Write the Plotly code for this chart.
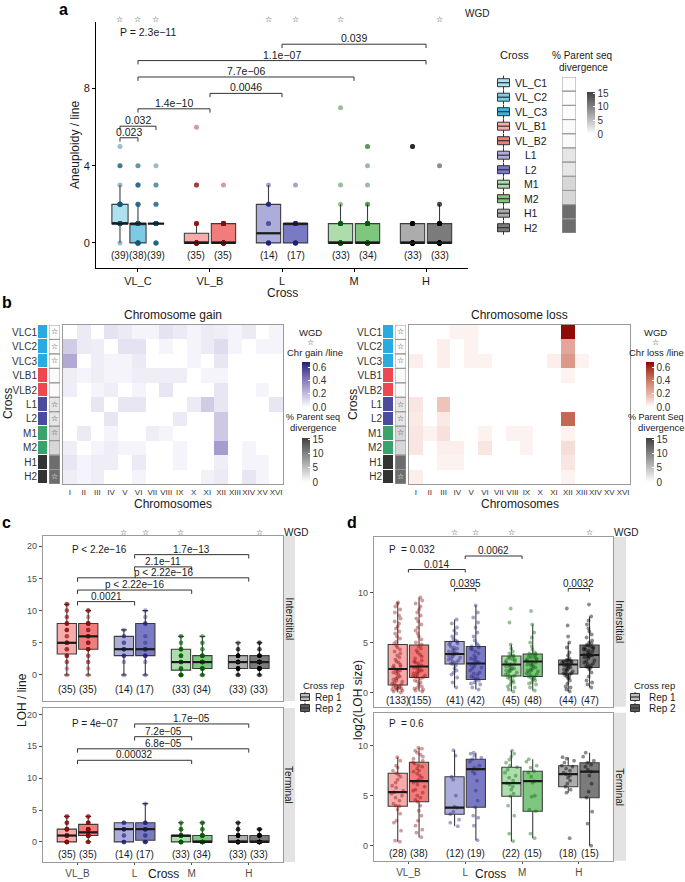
import plotly.graph_objects as go

W, H = 685, 882
FONT = "Liberation Sans, Arial, sans-serif"
SYM = "DejaVu Sans"


def PX(p):
    return p / W


def PY(p):
    return 1 - p / H

# ============================ DATA ============================
lines = ["VL_C1", "VL_C2", "VL_C3", "VL_B1", "VL_B2", "L1", "L2", "M1", "M2", "H1", "H2"]
line_group = ["VL_C", "VL_C", "VL_C", "VL_B", "VL_B", "L", "L", "M", "M", "H", "H"]
groups_a = ["VL_C", "VL_B", "L", "M", "H"]
row_labels_b = ["VLC1", "VLC2", "VLC3", "VLB1", "VLB2", "L1", "L2", "M1", "M2", "H1", "H2"]
wgd = [1, 1, 1, 0, 0, 1, 1, 1, 0, 0, 1]
divergence = [0.2, 0.2, 0.2, 0.4, 0.4, 2.0, 2.0, 3.2, 3.2, 11.8, 11.8]

# ---- panel a: aneuploidy / line ----
a_n = [39, 38, 39, 35, 35, 14, 17, 33, 34, 33, 33]
a_q1 = [1, 0, 1, 0, 0, 0, 0, 0, 0, 0, 0]
a_median = [1, 1, 1, 0, 0, 0.5, 1, 0, 0, 0, 0]
a_q3 = [2, 1, 1, 0.5, 1, 2, 1, 1, 1, 1, 1]
a_lower = [0, 0, 1, 0, 0, 0, 0, 0, 0, 0, 0]
a_upper = [3, 2, 1, 1, 1, 3, 1, 2, 2, 1, 2]
a_point_values = [[0, 1, 2, 3, 4, 5], [0, 1, 2, 3, 4], [0, 1, 2, 3, 4], [0, 1, 3, 6], [0, 1, 3],
                  [0, 1, 2, 3], [0, 1, 3], [0, 1, 2, 3, 7], [0, 1, 2, 3, 4, 5], [0, 1, 5], [0, 1, 2, 4]]
a_point_counts = [[1, 17, 10, 1, 3, 1], [10, 18, 4, 4, 2], [5, 27, 3, 2, 1], [26, 5, 3, 1], [22, 12, 1],
                  [6, 2, 4, 1], [7, 9, 1], [20, 8, 1, 1, 1], [18, 10, 2, 1, 1, 2], [24, 8, 3], [22, 8, 2, 1]]
a_comparisons = [("VL_C1", "VL_C2", 5.45, "0.023"), ("VL_C1", "VL_C3", 6.05, "0.032"),
                 ("VL_C", "VL_B", 6.95, "1.4e\u221210"), ("VL_B", "L", 7.75, "0.0046"),
                 ("VL_C", "M", 8.6, "7.7e\u221206"), ("VL_C", "H", 9.45, "1.1e\u221207"),
                 ("L", "H", 10.3, "0.039")]
a_global_p = "P = 2.3e\u221211"

# ---- panel b: chromosome gain / loss per line ----
chromosomes = ["I", "II", "III", "IV", "V", "VI", "VII", "VIII", "IX", "X", "XI", "XII", "XIII", "XIV", "XV", "XVI"]
gain = [
    [0, .06, 0, .08, .06, .03, .03, .08, .06, .03, .06, .05, .03, .06, 0, .03],
    [.15, .06, .05, 0, .08, .08, 0, .03, 0, .03, .06, .10, .03, 0, .03, .03],
    [.26, 0, .05, .03, .03, .06, 0, 0, 0, .03, 0, .07, 0, 0, 0, 0],
    [.05, .03, .05, .03, .03, .05, .05, .05, .05, 0, .03, .03, 0, 0, 0, 0],
    [.05, 0, .03, .05, 0, .03, 0, .07, 0, 0, 0, .07, 0, 0, .03, 0],
    [0, 0, .07, 0, .07, .07, 0, 0, 0, .06, .15, .07, 0, 0, 0, .07],
    [0, 0, 0, .07, 0, 0, 0, 0, .06, 0, 0, .16, 0, 0, 0, 0],
    [0, .06, 0, .03, 0, 0, .05, .03, 0, 0, 0, .16, 0, 0, 0, 0],
    [.05, 0, .03, .05, .03, .03, 0, 0, .03, 0, 0, .30, 0, .03, 0, 0],
    [.07, .03, .05, .05, 0, .06, 0, 0, .03, 0, 0, .05, 0, .03, .03, 0],
    [.05, .03, .05, 0, 0, .03, 0, 0, 0, 0, .04, .06, 0, .07, .03, 0],
]
loss = [
    [0, 0, 0, .03, .03, 0, 0, 0, 0, 0, 0, .66, 0, 0, 0, 0],
    [0, 0, .04, 0, .03, 0, 0, 0, 0, 0, 0, .25, 0, 0, 0, 0],
    [.04, 0, .04, 0, .03, .03, 0, 0, 0, 0, .04, .30, .03, 0, 0, 0],
    [0, 0, 0, 0, 0, 0, 0, 0, 0, 0, 0, .03, 0, 0, 0, 0],
    [0, 0, 0, 0, 0, 0, 0, 0, 0, 0, 0, 0, 0, 0, 0, 0],
    [.06, 0, .15, 0, 0, 0, 0, 0, 0, 0, 0, 0, 0, 0, 0, 0],
    [.05, 0, .05, 0, 0, 0, 0, 0, 0, 0, 0, .45, 0, 0, 0, 0],
    [.06, .03, .07, 0, 0, .03, 0, .03, .03, 0, 0, .03, 0, 0, 0, 0],
    [.06, 0, .04, .04, 0, .06, 0, 0, .03, 0, 0, .08, 0, 0, 0, 0],
    [0, 0, .03, .03, 0, 0, 0, 0, 0, 0, 0, .06, 0, 0, 0, 0],
    [.04, 0, 0, 0, 0, 0, 0, 0, 0, 0, 0, .03, 0, 0, 0, 0],
]

# ---- panels c / d ----
cd_groups = ["VL_B", "L", "M", "H"]
cd_lines = ["VL_B1", "VL_B2", "L1", "L2", "M1", "M2", "H1", "H2"]
cd_line_group = ["VL_B", "VL_B", "L", "L", "M", "M", "H", "H"]
cd_wgd = [0, 0, 1, 1, 1, 0, 0, 1]

# c: LOH / line, interstitial
c_int_n = [35, 35, 14, 17, 33, 34, 33, 33]
c_int_q1 = [3.25, 4, 3, 3, 0.75, 1, 1, 1]
c_int_median = [5, 6, 4, 4, 2, 2, 2, 2]
c_int_q3 = [8, 8, 6, 8, 4, 3, 3, 3]
c_int_lower = [0, 0, 0, 0, 0, 0, 0, 0]
c_int_upper = [11, 10, 7, 10, 6, 6, 5, 5]
c_int_values = [[0, 1, 2, 3, 4, 5, 6, 7, 8, 9, 10, 11], [0, 1, 2, 3, 4, 5, 6, 7, 8, 9, 10],
                [0, 2, 3, 4, 5, 6, 7], [0, 2, 3, 4, 5, 6, 8, 9, 10], [0, 1, 2, 3, 4, 5, 6],
                [0, 1, 2, 3, 4, 5, 6], [0, 1, 2, 3, 4, 5], [0, 1, 2, 3, 4, 5]]
c_int_counts = [[1, 1, 2, 4, 3, 6, 2, 4, 5, 2, 2, 3], [1, 1, 2, 2, 5, 4, 6, 3, 7, 1, 3],
                [1, 1, 3, 4, 2, 2, 1], [1, 1, 4, 4, 1, 1, 3, 1, 1], [8, 4, 7, 5, 5, 2, 2],
                [3, 7, 12, 7, 2, 2, 1], [2, 8, 12, 8, 2, 1], [2, 9, 11, 7, 2, 2]]
c_int_comparisons = [("VL_B", "L", 11.4, "0.0021"), ("VL_B", "M", 13.2, "p &lt; 2.22e\u221216"),
                     ("VL_B", "H", 15.1, "p &lt; 2.22e\u221216"), ("L", "M", 16.8, "2.1e\u221211"),
                     ("L", "H", 18.7, "1.7e\u221213")]
c_int_p = "P &lt; 2.2e\u221216"

# c: LOH / line, terminal
c_ter_n = [35, 35, 14, 17, 33, 34, 33, 33]
c_ter_q1 = [0, 1, 0, 0.25, 0, 0, 0, 0]
c_ter_median = [1, 1.5, 2, 2, 1, 0, 0, 0]
c_ter_q3 = [2, 2.75, 3, 3, 1, 1, 1, 1]
c_ter_lower = [0, 0, 0, 0, 0, 0, 0, 0]
c_ter_upper = [4, 4, 3, 6, 3, 3, 3, 2]
c_ter_values = [[0, 1, 2, 3, 4], [0, 1, 2, 3, 4], [0, 1, 2, 3], [0, 1, 2, 3, 6],
                [0, 1, 2, 3], [0, 1, 2, 3], [0, 1, 2, 3], [0, 1, 2]]
c_ter_counts = [[10, 9, 9, 4, 3], [4, 13, 9, 6, 3], [4, 2, 5, 3], [4, 2, 6, 4, 1],
                [15, 12, 4, 2], [18, 10, 3, 3], [18, 10, 3, 2], [19, 11, 3]]
c_ter_comparisons = [("L", "H", 18.5, "1.7e\u221205"), ("L", "M", 16.5, "7.2e\u221205"),
                     ("VL_B", "H", 14.6, "6.8e\u221205"), ("VL_B", "M", 12.8, "0.00032")]
c_ter_p = "P = 4e\u221207"

# d: log2(LOH size), interstitial
d_int_n = [133, 155, 41, 42, 45, 48, 44, 47]
d_int_q1 = [0.75, 1.5, 2.85, 1.3, 1.65, 1.6, 1.85, 2.5]
d_int_median = [2.35, 2.6, 3.85, 2.9, 2.8, 3.1, 2.8, 3.75]
d_int_q3 = [4.8, 4.75, 5.1, 4.6, 3.65, 3.85, 3.25, 4.75]
d_int_lower = [0.0, 0.1, 0.5, 0.3, 0.1, 0.2, 0.1, 0.5]
d_int_upper = [9.0, 9.5, 7.3, 8.7, 4.8, 6.8, 5.0, 7.6]
d_int_values = [
    [0.0, 0.1, 0.2, 0.3, 0.4, 0.5, 0.5, 0.6, 0.7, 0.8, 0.9, 1.0, 1.1, 1.2, 1.4, 1.5, 1.6, 1.8, 1.9, 2.0,
     2.1, 2.2, 2.3, 2.4, 2.5, 2.6, 2.8, 3.0, 3.1, 3.3, 3.5, 3.7, 3.9, 4.1, 4.3, 4.5, 4.7, 4.9, 5.1, 5.4,
     5.6, 5.9, 6.1, 6.4, 6.6, 6.9, 7.1, 7.4, 7.7, 8.0, 8.3, 8.6, 8.9, 9.0, 0.3, 0.6, 1.3, 2.2, 2.7, 0.4],
    [0.1, 0.2, 0.4, 0.6, 0.8, 1.0, 1.2, 1.4, 1.5, 1.6, 1.7, 1.8, 1.9, 2.0, 2.2, 2.3, 2.4, 2.5, 2.6, 2.7,
     2.9, 3.0, 3.2, 3.4, 3.6, 3.8, 4.0, 4.2, 4.4, 4.6, 4.8, 5.0, 5.3, 5.6, 5.9, 6.2, 6.5, 6.8, 7.1, 7.4,
     7.7, 8.0, 8.3, 8.6, 8.9, 9.2, 9.5, 0.3, 1.1, 1.5, 2.1, 2.6, 3.1, 0.5, 1.6],
    [0.5, 1.0, 1.5, 2.0, 2.4, 2.7, 2.9, 3.0, 3.1, 3.2, 3.4, 3.5, 3.6, 3.7, 3.8, 3.85, 3.9, 4.0, 4.1, 4.2,
     4.3, 4.5, 4.6, 4.8, 4.9, 5.0, 5.1, 5.3, 5.6, 5.9, 6.2, 6.5, 6.9, 7.3, 2.85, 3.3, 4.4, 5.2, 1.8, 2.2, 3.9],
    [0.3, 0.5, 0.8, 1.0, 1.2, 1.3, 1.4, 1.6, 1.8, 2.0, 2.2, 2.4, 2.6, 2.8, 2.9, 3.0, 3.1, 3.3, 3.5, 3.7,
     3.9, 4.1, 4.3, 4.5, 4.6, 4.7, 4.9, 5.2, 5.6, 6.0, 6.5, 7.0, 7.5, 8.0, 8.7, 1.5, 2.5, 3.4, 4.4, 0.9, 2.9, 1.9],
    [0.1, 0.3, 0.5, 0.8, 1.0, 1.2, 1.4, 1.5, 1.6, 1.7, 1.8, 1.9, 2.0, 2.1, 2.2, 2.3, 2.4, 2.5, 2.6, 2.7,
     2.8, 2.85, 2.9, 3.0, 3.1, 3.2, 3.3, 3.4, 3.5, 3.6, 3.65, 3.7, 3.9, 4.1, 4.4, 4.8, 7.0, 8.4, 1.65, 2.2,
     2.75, 3.3, 0.6, 1.1, 2.4],
    [0.2, 0.5, 0.8, 1.0, 1.2, 1.4, 1.5, 1.6, 1.7, 1.8, 1.9, 2.0, 2.1, 2.2, 2.4, 2.5, 2.6, 2.7, 2.8, 2.9,
     3.0, 3.1, 3.2, 3.3, 3.4, 3.5, 3.6, 3.7, 3.8, 3.85, 3.9, 4.0, 4.3, 4.6, 5.0, 5.5, 6.0, 6.8, 8.15, 1.6,
     2.3, 3.1, 3.5, 0.9, 2.2, 2.8, 3.3, 1.3],
    [0.1, 0.3, 0.6, 0.9, 1.2, 1.4, 1.6, 1.7, 1.8, 1.85, 1.9, 2.0, 2.1, 2.2, 2.3, 2.4, 2.5, 2.6, 2.7, 2.8,
     2.85, 2.9, 3.0, 3.05, 3.1, 3.15, 3.2, 3.25, 3.4, 3.7, 4.0, 4.5, 5.0, 5.6, 6.7, 8.4, 1.9, 2.3, 2.8, 3.2,
     0.5, 1.5, 2.6, 3.0],
    [0.5, 0.8, 1.2, 1.6, 2.0, 2.3, 2.5, 2.6, 2.7, 2.8, 3.0, 3.2, 3.4, 3.5, 3.6, 3.7, 3.75, 3.8, 3.9, 4.0,
     4.1, 4.2, 4.3, 4.4, 4.5, 4.6, 4.7, 4.75, 4.9, 5.2, 5.5, 5.8, 6.1, 6.4, 6.8, 7.2, 7.6, 8.8, 2.5, 3.1,
     3.75, 4.3, 1.0, 2.9, 3.6, 4.5, 5.0],
]
d_int_comparisons = [("VL_B", "L", 12.3, "0.014"), ("L", "M", 13.65, "0.0062"),
                     ("L1", "L2", 10.4, "0.0395"), ("H1", "H2", 10.4, "0.0032")]
d_int_p = "P  = 0.032"

# d: log2(LOH size), terminal
d_ter_n = [28, 38, 12, 19, 22, 15, 18, 15]
d_ter_q1 = [3.95, 4.4, 3.15, 3.85, 4.95, 3.45, 5.9, 4.8]
d_ter_median = [5.35, 6.45, 3.8, 7.65, 6.25, 6.45, 7.15, 7.4]
d_ter_q3 = [7.25, 8.35, 6.9, 8.65, 7.85, 7.45, 8.0, 8.3]
d_ter_lower = [0.4, 0.85, 1.95, 0.55, 0.45, 0.75, 5.3, 0.0]
d_ter_upper = [8.85, 9.8, 9.55, 9.3, 9.5, 8.65, 8.85, 9.3]
d_ter_values = [
    [0.4, 0.5, 1.5, 2.3, 2.5, 3.2, 3.6, 3.95, 4.0, 4.2, 4.5, 4.8, 5.0, 5.2, 5.35, 5.5, 5.8, 6.0, 6.3, 6.6,
     6.9, 7.1, 7.25, 7.5, 7.8, 8.0, 8.5, 8.85],
    [0.85, 1.3, 1.6, 2.0, 2.5, 3.0, 3.5, 4.0, 4.4, 4.6, 5.0, 5.3, 5.6, 5.9, 6.1, 6.3, 6.45, 6.6, 6.8, 7.0,
     7.2, 7.5, 7.7, 7.9, 8.0, 8.2, 8.35, 8.5, 8.7, 8.9, 9.1, 9.3, 9.5, 9.7, 9.8, 5.5, 7.4, 4.8],
    [1.95, 2.3, 2.6, 3.15, 3.4, 3.8, 3.9, 5.0, 6.6, 6.9, 9.0, 9.55],
    [0.55, 2.0, 2.8, 3.0, 3.85, 4.5, 5.5, 6.5, 7.2, 7.65, 7.8, 8.0, 8.4, 8.65, 8.8, 9.0, 9.2, 9.3, 7.4],
    [0.45, 1.2, 3.0, 4.0, 4.95, 5.2, 5.6, 5.9, 6.1, 6.25, 6.5, 6.8, 7.0, 7.3, 7.6, 7.85, 8.0, 8.3, 8.6,
     8.9, 9.2, 9.5],
    [0.75, 1.2, 3.45, 3.6, 4.9, 5.0, 6.3, 6.45, 6.9, 7.3, 7.45, 7.8, 8.0, 8.4, 8.65],
    [0.75, 5.3, 5.6, 5.9, 6.2, 6.5, 6.8, 7.0, 7.15, 7.3, 7.5, 7.7, 7.9, 8.0, 8.3, 8.5, 8.7, 8.85],
    [0.0, 2.2, 3.4, 4.8, 5.4, 6.2, 7.0, 7.4, 7.6, 7.9, 8.1, 8.3, 8.5, 8.9, 9.3],
]
d_ter_p = "P  = 0.6"

# ============================ STYLE ============================
FILL = {"VL_C1": "#aee0f0", "VL_C2": "#7dc9e6", "VL_C3": "#3fb3df", "VL_B1": "#f8abab", "VL_B2": "#f07c7c",
        "L1": "#adaddc", "L2": "#7a7ac4", "M1": "#addcad", "M2": "#7fc67f", "H1": "#acacac", "H2": "#7b7b7b"}
PT = {"VL_C": "rgba(15,90,120,0.4)", "VL_B": "rgba(140,10,10,0.4)", "L": "rgba(30,30,115,0.4)",
      "M": "rgba(0,95,0,0.4)", "H": "rgba(0,0,0,0.45)"}
CROSS_COL = {"VL_C": "#29aae1", "VL_B": "#ef4750", "L": "#4b4b9b", "M": "#3aa26b", "H": "#333333"}
BOX_LINE = "#3d3d3d"
GAIN_CS = [[0, "#ffffff"], [0.1, "#e9e7f3"], [0.25, "#cbc5e2"], [0.45, "#a59acd"],
           [0.65, "#7d6fb5"], [0.85, "#4d4393"], [1, "#231f6e"]]
LOSS_CS = [[0, "#ffffff"], [0.1, "#f8e2dd"], [0.25, "#ebbdb2"], [0.45, "#da978a"],
           [0.65, "#c56b57"], [0.85, "#a63a2a"], [1, "#8b0000"]]
DIV_CS = [[0, "#ffffff"], [1, "#3f3f3f"]]

fig = go.Figure()
shapes = []
annotations = []
layout = {}


def axn(i):
    return ("x" if i == 1 else f"x{i}"), ("y" if i == 1 else f"y{i}")


def set_axes(i, xpx, ypx, xr, yr, xkw=None, ykw=None):
    xn, yn = axn(i)
    xa = dict(domain=[PX(xpx[0]), PX(xpx[1])], range=xr, anchor=yn, showgrid=False, zeroline=False,
              fixedrange=True)
    ya = dict(domain=[PY(ypx[1]), PY(ypx[0])], range=yr, anchor=xn, showgrid=False, zeroline=False,
              fixedrange=True)
    xa.update(xkw or {})
    ya.update(ykw or {})
    layout["xaxis" if i == 1 else f"xaxis{i}"] = xa
    layout["yaxis" if i == 1 else f"yaxis{i}"] = ya


def txt(x, y, s, size=10, color="#1a1a1a", xanchor="center", yanchor="middle", angle=0,
        family=FONT, xref="paper", yref="paper", yshift=0):
    annotations.append(dict(x=PX(x) if xref == "paper" else x, y=PY(y) if yref == "paper" else y,
                            xref=xref, yref=yref, text=s, showarrow=False, xanchor=xanchor,
                            yanchor=yanchor, textangle=angle, yshift=yshift,
                            font=dict(size=size, color=color, family=family)))


def dodge(lns, lgrp, grps):
    pos, wid = {}, {}
    for gi, g in enumerate(grps):
        mem = [l for l, lg in zip(lns, lgrp) if lg == g]
        k = len(mem)
        for j, m in enumerate(mem):
            pos[m] = gi + 1 + 0.75 / k * (j - (k - 1) / 2)
            wid[m] = 0.9 * 0.75 / k
        pos[g] = gi + 1
    return pos, wid


def boxes(i, lns, pos, wid, q1, med, q3, lo, hi, whisk):
    xn, yn = axn(i)
    for k, ln in enumerate(lns):
        fig.add_trace(go.Box(x=[pos[ln]], q1=[q1[k]], median=[med[k]], q3=[q3[k]],
                             lowerfence=[lo[k]], upperfence=[hi[k]], width=wid[ln], orientation="v",
                             fillcolor=FILL[ln], line=dict(color=BOX_LINE, width=1.1),
                             whiskerwidth=whisk, boxpoints=False, xaxis=xn, yaxis=yn,
                             showlegend=False, hoverinfo="skip"))
        shapes.append(dict(type="line", xref=xn, yref=yn, x0=pos[ln] - wid[ln] / 2,
                           x1=pos[ln] + wid[ln] / 2, y0=med[k], y1=med[k],
                           line=dict(color="#1a1a1a", width=2.2)))


def discrete_points(i, lns, lgrp, pos, values, counts, size):
    xn, yn = axn(i)
    for k, ln in enumerate(lns):
        xs, ys = [], []
        for v, c in zip(values[k], counts[k]):
            xs += [pos[ln]] * c
            ys += [v] * c
        fig.add_trace(go.Scatter(x=xs, y=ys, mode="markers", xaxis=xn, yaxis=yn, showlegend=False,
                                 hoverinfo="skip",
                                 marker=dict(size=size, color=PT[lgrp[k]], line=dict(width=0))))


def jitter_points(i, lns, lgrp, pos, wid, values, size):
    xn, yn = axn(i)
    for k, ln in enumerate(lns):
        fig.add_trace(go.Box(y=values[k], x=[pos[ln]] * len(values[k]), orientation="v",
                             boxpoints="all", jitter=0.7, pointpos=0, width=wid[ln],
                             fillcolor="rgba(0,0,0,0)", line=dict(width=0, color="rgba(0,0,0,0)"),
                             marker=dict(size=size, color=PT[lgrp[k]], line=dict(width=0)),
                             xaxis=xn, yaxis=yn, showlegend=False, hoverinfo="skip"))


def brackets(i, pos, comps, tip, size=10):
    xn, yn = axn(i)
    for a, b, yv, lab in comps:
        x1, x2 = pos[a], pos[b]
        shapes.append(dict(type="path", xref=xn, yref=yn,
                           path=f"M {x1},{yv - tip} L {x1},{yv} L {x2},{yv} L {x2},{yv - tip}",
                           line=dict(color="#333333", width=1)))
        annotations.append(dict(xref=xn, yref=yn, x=(x1 + x2) / 2, y=yv, text=lab, showarrow=False,
                                yanchor="bottom", yshift=-2,
                                font=dict(size=size, color="#1a1a1a", family=FONT)))


def count_labels(i, lns, pos, ns, yv, size=10):
    xn, yn = axn(i)
    for ln, n in zip(lns, ns):
        annotations.append(dict(xref=xn, yref=yn, x=pos[ln], y=yv, text=f"({n})", showarrow=False,
                                font=dict(size=size, color="#1a1a1a", family=FONT)))


def wgd_stars(i, lns, pos, flags, ypx, size=8):
    xn, _ = axn(i)
    for ln, f in zip(lns, flags):
        if f:
            annotations.append(dict(xref=xn, yref="paper", x=pos[ln], y=PY(ypx), text="\u2606",
                                    showarrow=False,
                                    font=dict(size=size, color="#333333", family=SYM)))


def legend_glyph(cx, cy, fill, w=12, h=8, wh=7):
    shapes.append(dict(type="line", xref="paper", yref="paper", x0=PX(cx), x1=PX(cx),
                       y0=PY(cy - wh), y1=PY(cy + wh), line=dict(color="#333333", width=1)))
    shapes.append(dict(type="rect", xref="paper", yref="paper", x0=PX(cx - w / 2), x1=PX(cx + w / 2),
                       y0=PY(cy + h / 2), y1=PY(cy - h / 2), fillcolor=fill,
                       line=dict(color="#333333", width=1)))
    shapes.append(dict(type="line", xref="paper", yref="paper", x0=PX(cx - w / 2), x1=PX(cx + w / 2),
                       y0=PY(cy), y1=PY(cy), line=dict(color="#333333", width=1.2)))


TICKFONT = dict(size=11, color="#1a1a1a", family=FONT)
SMALLTICK = dict(size=9, color="#4d4d4d", family=FONT)

# ============================ PANEL a ============================
pos_a, wid_a = dodge(lines, line_group, groups_a)
set_axes(1, (96, 468), (22, 268), [0.417, 5.583], [-1.3, 11.45],
         dict(showline=True, linecolor="black", linewidth=1, ticks="outside", ticklen=3,
              tickcolor="black", tickvals=list(range(1, 6)), ticktext=groups_a, tickfont=TICKFONT),
         dict(showline=True, linecolor="black", linewidth=1, ticks="outside", ticklen=3,
              tickcolor="black", tickvals=[0, 4, 8], tickfont=TICKFONT))
boxes(1, lines, pos_a, wid_a, a_q1, a_median, a_q3, a_lower, a_upper, 0)
discrete_points(1, lines, line_group, pos_a, a_point_values, a_point_counts, 5)
brackets(1, pos_a, a_comparisons, 0.2, 10.5)
count_labels(1, lines, pos_a, a_n, -0.67, 10)
wgd_stars(1, lines, pos_a, wgd, 13, 8)
txt(463, 14, "WGD", 10, xanchor="left")
txt(118, 32, a_global_p, 10.5, xanchor="left")
txt(75, 145, "Aneuploidy / line", 12, angle=-90)
txt(282, 293, "Cross", 12)
txt(57, 10, "<b>a</b>", 16, xanchor="left", color="black")

# legend of panel a
txt(498, 55, "Cross", 11, xanchor="left")
for k, ln in enumerate(lines):
    cy = 82.7 + k * 14.5
    legend_glyph(503.5, cy, FILL[ln])
    txt(531, cy, ln, 10.5)
txt(582, 55, "% Parent seq", 10)
txt(583, 67, "divergence", 10)
set_axes(2, (562, 576), (77, 233), [-0.5, 0.5], [10.5, -0.5],
         dict(showticklabels=False, ticks=""), dict(showticklabels=False, ticks=""))
fig.add_trace(go.Heatmap(z=[[d] for d in divergence], x=[0], y=list(range(11)), colorscale=DIV_CS,
                         zmin=0, zmax=15.5, xaxis="x2", yaxis="y2", hoverinfo="skip",
                         colorbar=dict(x=PX(587), xanchor="left", y=PY(113), yanchor="middle",
                                       len=42, lenmode="pixels", thickness=8, xpad=0, ypad=0,
                                       outlinewidth=0, tickvals=[0, 5, 10, 15], ticks="inside",
                                       ticklen=2, tickcolor="white",
                                       tickfont=dict(size=10, color="#333333", family=FONT))))
for r in range(11):
    shapes.append(dict(type="rect", xref="x2", yref="y2", x0=-0.5, x1=0.5, y0=r - 0.5, y1=r + 0.5,
                       line=dict(color="#9a9a9a", width=1)))

# ============================ PANEL b ============================
grp_index = [groups_a.index(g) for g in line_group]
cross_cs = []
for gi, g in enumerate(groups_a):
    cross_cs += [[gi / 5, CROSS_COL[g]], [(gi + 1) / 5, CROSS_COL[g]]]

b_top, b_bot = 325, 484


def heat_block(main_i, cross_i, wgd_i, main_x, cross_x, wgd_x, z, cs, zmax, cb_x, title, cb_title,
               div_title, text_pos):
    set_axes(main_i, main_x, (b_top, b_bot), [-0.5, 15.5], [10.5, -0.5],
             dict(showline=True, mirror=True, linecolor="#9a9a9a", linewidth=1, ticks="",
                  tickvals=list(range(16)), ticktext=chromosomes, tickangle=0,
                  tickfont=dict(size=8, color="#333333", family=FONT)),
             dict(showline=True, mirror=True, linecolor="#9a9a9a", linewidth=1, ticks="",
                  showticklabels=False))
    xn, yn = axn(main_i)
    fig.add_trace(go.Heatmap(z=z, x=list(range(16)), y=list(range(11)), colorscale=cs, zmin=0, zmax=zmax,
                             xaxis=xn, yaxis=yn, hoverinfo="skip",
                             colorbar=dict(x=PX(cb_x), xanchor="left", y=PY(384.5), yanchor="middle",
                                           len=45, lenmode="pixels", thickness=8, xpad=0, ypad=0,
                                           outlinewidth=0, tickvals=[0, 0.2, 0.4, 0.6],
                                           ticktext=["0.0", "0.2", "0.4", "0.6"], ticks="inside",
                                           ticklen=2, tickcolor="white",
                                           tickfont=dict(size=10, color="#333333", family=FONT))))
    set_axes(cross_i, cross_x, (b_top, b_bot), [-0.5, 0.5], [10.5, -0.5],
             dict(showticklabels=False, ticks=""),
             dict(ticks="", tickvals=list(range(11)), ticktext=row_labels_b,
                  tickfont=dict(size=10, color="#333333", family=FONT)))
    xn, yn = axn(cross_i)
    fig.add_trace(go.Heatmap(z=[[g] for g in grp_index], x=[0], y=list(range(11)), colorscale=cross_cs,
                             zmin=0, zmax=5, showscale=False, ygap=1, xaxis=xn, yaxis=yn,
                             hoverinfo="skip"))
    set_axes(wgd_i, wgd_x, (b_top, b_bot), [-0.5, 0.5], [10.5, -0.5],
             dict(showticklabels=False, ticks=""), dict(showticklabels=False, ticks=""))
    xn, yn = axn(wgd_i)
    fig.add_trace(go.Heatmap(z=[[d] for d in divergence], x=[0], y=list(range(11)), colorscale=DIV_CS,
                             zmin=0, zmax=15.5, xaxis=xn, yaxis=yn, hoverinfo="skip",
                             colorbar=dict(x=PX(cb_x), xanchor="left", y=PY(460), yanchor="middle",
                                           len=44, lenmode="pixels", thickness=8, xpad=0, ypad=0,
                                           outlinewidth=0, tickvals=[0, 5, 10, 15], ticks="inside",
                                           ticklen=2, tickcolor="white",
                                           tickfont=dict(size=10, color="#333333", family=FONT))))
    for r in range(11):
        shapes.append(dict(type="rect", xref=xn, yref=yn, x0=-0.5, x1=0.5, y0=r - 0.5, y1=r + 0.5,
                           line=dict(color="#9a9a9a", width=1)))
    star_rows = [r for r in range(11) if wgd[r]]
    fig.add_trace(go.Scatter(x=[0] * len(star_rows), y=star_rows, mode="text",
                             text=["\u2606"] * len(star_rows), xaxis=xn, yaxis=yn, showlegend=False,
                             hoverinfo="skip",
                             textfont=dict(size=8, family=SYM,
                                           color=["white" if divergence[r] > 8 else "#333333"
                                                  for r in star_rows])))
    txt((main_x[0] + main_x[1]) / 2, 315, title, 12)
    txt((main_x[0] + main_x[1]) / 2, 504, "Chromosomes", 12)
    txt(cross_x[0] - 30, 404, "Cross", 12, angle=-90)
    (wx, wa), (cx, ca), (dx, da), (vx, va) = text_pos
    txt(wx, 332, "WGD", 9.5, xanchor=wa)
    txt(wx, 342, "\u2606", 8, family=SYM, color="#333333", xanchor=wa)
    txt(cx, 352, cb_title, 9.5, xanchor=ca)
    txt(dx, 417, div_title, 9, xanchor=da)
    txt(vx, 427, "divergence", 9.5, xanchor=va)


heat_block(3, 4, 5, (63, 283), (38, 47), (49, 60), gain, GAIN_CS, 0.68, 301.5,
           "Chromosome gain", "Chr gain /line", "% Parent seq",
           ((310, "center"), (315, "center"), (313, "center"), (313, "center")))
heat_block(6, 7, 8, (409, 630), (383, 393), (395, 406), loss, LOSS_CS, 0.68, 646,
           "Chromosome loss", "Chr loss /line", "% Parent Seq",
           ((655, "center"), (686, "right"), (686, "right"), (686, "right")))
txt(0, 302, "<b>b</b>", 16, xanchor="left", color="black")

# ============================ PANELS c / d ============================
pos_cd, wid_cd = dodge(cd_lines, cd_line_group, cd_groups)
FACET_LINE = "#9a9a9a"


def facet(i, xpx, ypx, yr, yticks, show_x):
    xk = dict(showline=True, mirror=True, linecolor=FACET_LINE, linewidth=1.2)
    if show_x:
        xk.update(ticks="outside", ticklen=2, tickcolor="#4d4d4d", tickvals=[1, 2, 3, 4],
                  ticktext=cd_groups, tickfont=dict(size=10, color="#4d4d4d", family=FONT))
    else:
        xk.update(ticks="", showticklabels=False)
    yk = dict(showline=True, mirror=True, linecolor=FACET_LINE, linewidth=1.2, ticks="outside",
              ticklen=3, tickcolor="#4d4d4d", tickvals=yticks, tickfont=SMALLTICK)
    set_axes(i, xpx, ypx, [0.395, 4.6], yr, xk, yk)


def strip(xpx, ypx, label):
    shapes.append(dict(type="rect", xref="paper", yref="paper", x0=PX(xpx[0]), x1=PX(xpx[1]),
                       y0=PY(ypx[1]), y1=PY(ypx[0]), fillcolor="#e3e3e3", line=dict(width=0),
                       layer="below"))
    txt((xpx[0] + xpx[1]) / 2, (ypx[0] + ypx[1]) / 2, label, 10, angle=90)


# ---- c ----
facet(9, (43, 283), (536, 701), [-4.05, 21.6], [0, 5, 10, 15, 20], False)
facet(10, (43, 283), (708, 862), [-3.15, 21.0], [0, 5, 10, 15, 20], True)
boxes(9, cd_lines, pos_cd, wid_cd, c_int_q1, c_int_median, c_int_q3, c_int_lower, c_int_upper, 0.3)
boxes(10, cd_lines, pos_cd, wid_cd, c_ter_q1, c_ter_median, c_ter_q3, c_ter_lower, c_ter_upper, 0.3)
discrete_points(9, cd_lines, cd_line_group, pos_cd, c_int_values, c_int_counts, 4.5)
discrete_points(10, cd_lines, cd_line_group, pos_cd, c_ter_values, c_ter_counts, 4.5)
brackets(9, pos_cd, c_int_comparisons, 0.6, 10)
brackets(10, pos_cd, c_ter_comparisons, 0.6, 10)
count_labels(9, cd_lines, pos_cd, c_int_n, -2.2, 10)
count_labels(10, cd_lines, pos_cd, c_ter_n, -1.9, 10)
wgd_stars(9, cd_lines, pos_cd, cd_wgd, 532, 8)
strip((283, 295), (536, 701), "Interstitial")
strip((283, 295), (708, 862), "Terminal")
txt(70, 549, c_int_p, 10, xanchor="left")
txt(70, 723, c_ter_p, 10, xanchor="left")
txt(282, 532, "WGD", 10, xanchor="left")
txt(22, 700, "LOH / line", 12, angle=-90)
txt(163, 874, "Cross", 12)
txt(0, 522, "<b>c</b>", 16, xanchor="left", color="black")
txt(301, 685, "Cross rep", 9.5, xanchor="left")
legend_glyph(305, 697, "#bdbdbd", w=9, h=7, wh=5)
legend_glyph(305, 708, "#5a5a5a", w=9, h=7, wh=5)
txt(313, 697, "Rep 1", 10, xanchor="left")
txt(313, 708, "Rep 2", 10, xanchor="left")

# ---- d ----
facet(11, (374, 613), (537, 706.7), [-1.42, 15.55], [0, 5, 10], False)
facet(12, (374, 613), (712.7, 860.7), [-1.5, 13.3], [0, 5, 10], True)
boxes(11, cd_lines, pos_cd, wid_cd, d_int_q1, d_int_median, d_int_q3, d_int_lower, d_int_upper, 0)
boxes(12, cd_lines, pos_cd, wid_cd, d_ter_q1, d_ter_median, d_ter_q3, d_ter_lower, d_ter_upper, 0)
jitter_points(11, cd_lines, cd_line_group, pos_cd, wid_cd, d_int_values, 3.8)
jitter_points(12, cd_lines, cd_line_group, pos_cd, wid_cd, d_ter_values, 3.8)
brackets(11, pos_cd, d_int_comparisons, 0.3, 10)
count_labels(11, cd_lines, pos_cd, d_int_n, -0.82, 10)
count_labels(12, cd_lines, pos_cd, d_ter_n, -0.76, 10)
wgd_stars(11, cd_lines, pos_cd, cd_wgd, 532, 8)
strip((613, 626), (537, 706.7), "Interstitial")
strip((613, 626), (712.7, 860.7), "Terminal")
txt(387, 549, d_int_p, 10, xanchor="left")
txt(387, 723, d_ter_p, 10, xanchor="left")
txt(612, 532, "WGD", 10, xanchor="left")
txt(358, 700, "log2(LOH size)", 12, angle=-90)
txt(491, 874, "Cross", 12)
txt(345, 522, "<b>d</b>", 16, xanchor="left", color="black")
txt(632, 685, "Cross rep", 9.5, xanchor="left")
legend_glyph(635, 697, "#bdbdbd", w=9, h=7, wh=5)
legend_glyph(635, 708, "#5a5a5a", w=9, h=7, wh=5)
txt(647, 697, "Rep 1", 10, xanchor="left")
txt(647, 708, "Rep 2", 10, xanchor="left")

fig.update_layout(width=W, height=H, margin=dict(l=0, r=0, t=0, b=0), paper_bgcolor="white",
                  plot_bgcolor="white", showlegend=False, boxmode="overlay",
                  font=dict(family=FONT, size=10, color="#1a1a1a"),
                  shapes=shapes, annotations=annotations, **layout)
fig.write_html("out.html", config={"displayModeBar": False},
               post_script="document.body.style.margin='0';document.body.style.overflow='hidden';")
